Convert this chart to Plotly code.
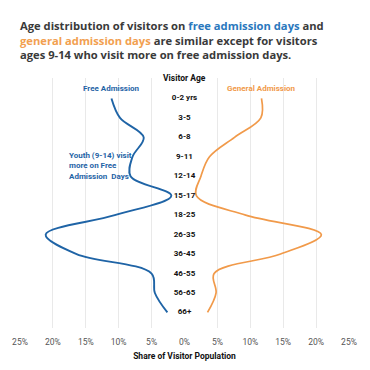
import plotly.graph_objects as go

ages = ["0-2 yrs", "3-5", "6-8", "9-11", "12-14", "15-17", "18-25", "26-35",
        "36-45", "46-55", "56-65", "66+"]
free_adm = [11.1, 9.8, 6.2, 7.9, 8.2, 2.0, 10.6, 21.1, 16.4, 5.0, 4.5, 2.6]
general_adm = [11.7, 11.6, 7.6, 3.8, 2.5, 1.8, 9.3, 20.8, 14.6, 4.5, 4.8, 3.5]
tick_vals = [-25, -20, -15, -10, -5, 0, 5, 10, 15, 20, 25]
tick_text = ["25%", "20%", "15%", "10%", "5%", "0%", "5%", "10%", "15%", "20%", "25%"]

BLUE = "#1f64a6"
ORANGE = "#f19a4a"
DARK = "#3a3a3a"

fig = go.Figure()
fig.add_trace(go.Scatter(
    x=[-v for v in free_adm], y=ages, mode="lines",
    line=dict(color=BLUE, width=1.9, shape="spline", smoothing=1.0),
    hoverinfo="skip", showlegend=False))
fig.add_trace(go.Scatter(
    x=general_adm, y=ages, mode="lines",
    line=dict(color=ORANGE, width=1.7, shape="spline", smoothing=1.0),
    hoverinfo="skip", showlegend=False))
fig.add_trace(go.Scatter(
    x=[0] * len(ages), y=ages, mode="text", text=[f"<b>{a}</b>" for a in ages],
    textfont=dict(family="Roboto", size=8, color="#111111"),
    hoverinfo="skip", showlegend=False))
# gridlines-only axis (no center line)
fig.add_trace(go.Scatter(x=[None], y=[None], xaxis="x2", showlegend=False, hoverinfo="skip"))

title_html = (
    f"Age distribution of visitors on <span style='color:#2a78bd'>free admission days</span> and<br>"
    f"<span style='color:#f2a050'>general admission days</span> are similar except for visitors<br>"
    f"ages 9-14 who visit more on free admission days."
)

fig.update_layout(
    width=370, height=370,
    margin=dict(l=20, r=21, t=78, b=42),
    paper_bgcolor="white", plot_bgcolor="white",
    title=dict(text=f"<b>{title_html}</b>", x=20/370, xanchor="left", xref="container",
               y=1 - 30/370, yanchor="top", yref="container",
               font=dict(family="Open Sans", size=11.2, color=DARK)),
    xaxis=dict(range=[-25, 25], tickvals=tick_vals, ticktext=tick_text,
               showgrid=False, zeroline=False, showline=False,
               ticks="outside", ticklen=6, tickcolor="rgba(0,0,0,0)",
               tickfont=dict(family="Roboto", size=8.5, color="#555555"),
               title=dict(text="<b>Share of Visitor Population</b>", standoff=6,
                          font=dict(family="Roboto", size=8.5, color="#111111"))),
    xaxis2=dict(range=[-25, 25], overlaying="x", tickvals=[v for v in tick_vals if v != 0],
                showticklabels=False, showgrid=True, gridcolor="#e9e9e9", gridwidth=1,
                zeroline=False, showline=False),
    yaxis=dict(type="category", categoryarray=ages, range=[11.8, -1.05],
               showticklabels=False, showgrid=False, zeroline=False, showline=False),
    annotations=[
        dict(text="<b>Visitor Age</b>", x=0, xref="x", y=1.03, yref="paper",
             showarrow=False, font=dict(family="Roboto", size=8.5, color="#111111")),
        dict(text="<b>Free Admission</b>", x=-11.1, xref="x", y=0.984, yref="paper",
             showarrow=False, font=dict(family="Roboto", size=8, color=BLUE)),
        dict(text="<b>General Admission</b>", x=11.7, xref="x", y=0.984, yref="paper",
             showarrow=False, font=dict(family="Roboto", size=8, color=ORANGE)),
        dict(text="<b>Youth (9-14) visit<br>more on Free<br>Admission  Days</b>",
             x=-17.9, xref="x", xanchor="left", align="left", y=0.648, yref="paper",
             showarrow=False, font=dict(family="Roboto", size=8, color=BLUE)),
    ],
)

fig.write_html("out.html", config={"displayModeBar": False},
               post_script="document.body.style.margin='0px';")
